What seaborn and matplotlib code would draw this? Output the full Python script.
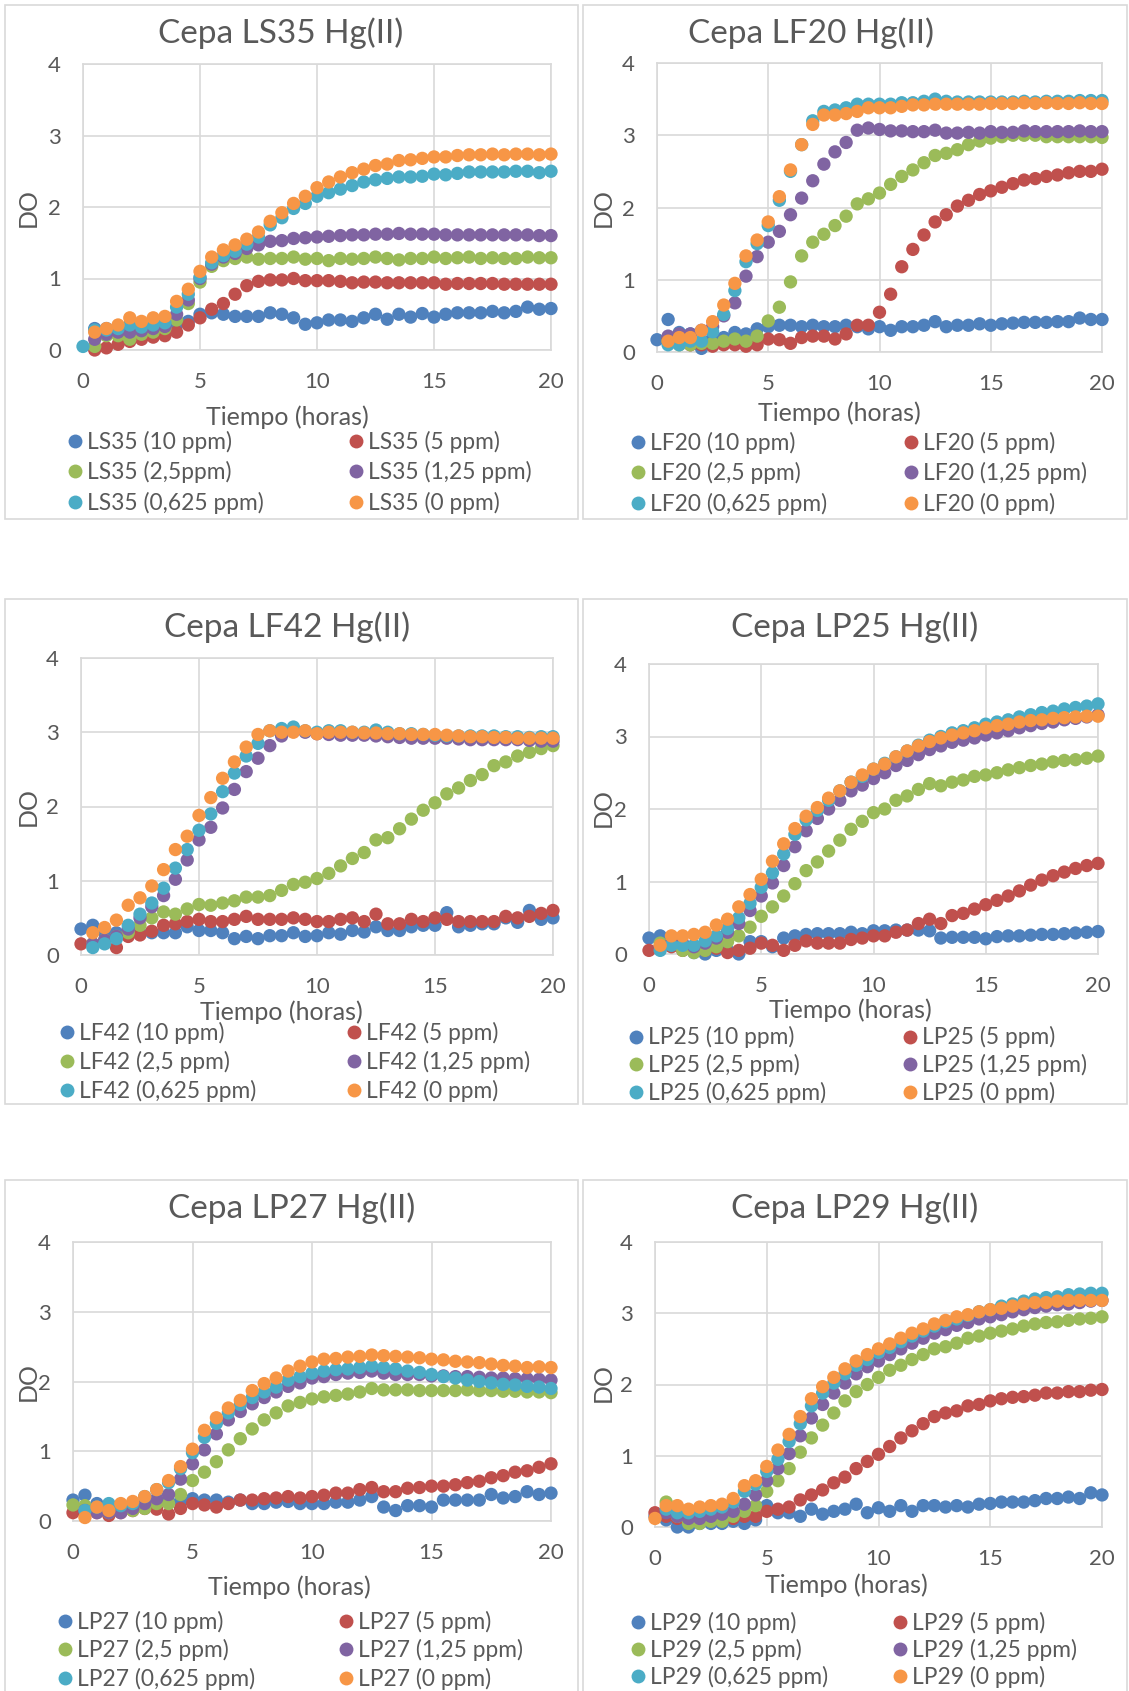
import numpy as np
import pandas as pd
import seaborn as sns
import matplotlib.pyplot as plt
from matplotlib.lines import Line2D
from matplotlib.patches import Rectangle

N = np.nan

# tiempo de muestreo (horas)
tiempo = [0.0, 0.5, 1.0, 1.5, 2.0, 2.5, 3.0, 3.5, 4.0, 4.5, 5.0,
          5.5, 6.0, 6.5, 7.0, 7.5, 8.0, 8.5, 9.0, 9.5, 10.0,
          10.5, 11.0, 11.5, 12.0, 12.5, 13.0, 13.5, 14.0, 14.5, 15.0,
          15.5, 16.0, 16.5, 17.0, 17.5, 18.0, 18.5, 19.0, 19.5, 20.0]

## Cepa LS35
ls35_10 = [N,
    0.30, 0.30, 0.30, 0.35, 0.30, 0.30, 0.30, 0.35, 0.40, 0.50,
    0.52, 0.50, 0.47, 0.47, 0.47, 0.52, 0.50, 0.45, 0.36, 0.38,
    0.42, 0.42, 0.40, 0.45, 0.50, 0.43, 0.50, 0.46, 0.51, 0.46,
    0.50, 0.52, 0.52, 0.52, 0.54, 0.52, 0.54, 0.60, 0.57, 0.58]
ls35_5 = [N,
    0.00, 0.03, 0.08, 0.12, 0.15, 0.18, 0.20, 0.25, 0.35, 0.45,
    0.57, 0.65, 0.78, 0.90, 0.96, 0.98, 0.98, 1.00, 0.97, 0.97,
    0.97, 0.96, 0.94, 0.95, 0.95, 0.94, 0.94, 0.94, 0.94, 0.94,
    0.92, 0.93, 0.93, 0.93, 0.93, 0.92, 0.92, 0.92, 0.92, 0.92]
ls35_25 = [N,
    0.05, 0.20, 0.20, 0.15, 0.22, 0.25, 0.30, 0.42, 0.65, 0.95,
    1.17, 1.25, 1.28, 1.30, 1.27, 1.28, 1.28, 1.30, 1.27, 1.28,
    1.25, 1.28, 1.27, 1.28, 1.30, 1.28, 1.26, 1.28, 1.28, 1.30,
    1.28, 1.29, 1.30, 1.28, 1.29, 1.28, 1.28, 1.30, 1.29, 1.29]
ls35_125 = [N,
    0.15, 0.22, 0.25, 0.25, 0.27, 0.30, 0.33, 0.50, 0.70, 1.00,
    1.20, 1.30, 1.35, 1.42, 1.47, 1.52, 1.53, 1.56, 1.57, 1.58,
    1.59, 1.60, 1.61, 1.61, 1.62, 1.62, 1.63, 1.62, 1.62, 1.62,
    1.61, 1.61, 1.61, 1.61, 1.61, 1.61, 1.61, 1.61, 1.60, 1.60]
ls35_0625 = [0.05,
    0.28, 0.28, 0.30, 0.35, 0.32, 0.35, 0.38, 0.60, 0.78, 1.02,
    1.22, 1.32, 1.38, 1.48, 1.58, 1.75, 1.85, 1.98, 2.05, 2.15,
    2.20, 2.25, 2.30, 2.35, 2.38, 2.40, 2.42, 2.42, 2.43, 2.46,
    2.45, 2.47, 2.49, 2.49, 2.49, 2.49, 2.50, 2.50, 2.48, 2.50]
ls35_0 = [N,
    0.25, 0.30, 0.35, 0.45, 0.40, 0.45, 0.47, 0.68, 0.85, 1.10,
    1.30, 1.40, 1.47, 1.55, 1.65, 1.80, 1.92, 2.05, 2.15, 2.27,
    2.35, 2.42, 2.48, 2.53, 2.58, 2.60, 2.65, 2.66, 2.68, 2.70,
    2.70, 2.72, 2.73, 2.73, 2.74, 2.73, 2.74, 2.74, 2.73, 2.74]

## Cepa LF20
lf20_10 = [0.17,
    0.45, 0.27, 0.25, 0.05, 0.20, 0.20, 0.27, 0.25, 0.32, 0.35,
    0.37, 0.37, 0.35, 0.37, 0.35, 0.35, 0.37, 0.35, 0.32, 0.35,
    0.30, 0.35, 0.35, 0.37, 0.42, 0.35, 0.37, 0.37, 0.39, 0.37,
    0.39, 0.40, 0.41, 0.41, 0.41, 0.42, 0.42, 0.47, 0.45, 0.45]
lf20_5 = [N,
    0.20, 0.20, 0.10, 0.10, 0.08, 0.10, 0.10, 0.08, 0.10, 0.18,
    0.17, 0.12, 0.20, 0.22, 0.22, 0.18, 0.25, 0.37, 0.37, 0.55,
    0.80, 1.18, 1.42, 1.62, 1.80, 1.90, 2.02, 2.10, 2.18, 2.23,
    2.28, 2.33, 2.38, 2.40, 2.43, 2.45, 2.48, 2.50, 2.50, 2.53]
lf20_25 = [N,
    0.15, 0.10, 0.10, 0.12, 0.12, 0.15, 0.18, 0.15, 0.22, 0.43,
    0.62, 0.97, 1.33, 1.52, 1.63, 1.75, 1.88, 2.05, 2.12, 2.20,
    2.32, 2.43, 2.52, 2.62, 2.72, 2.75, 2.80, 2.87, 2.92, 2.96,
    2.98, 3.00, 3.00, 3.00, 2.98, 2.98, 2.98, 2.98, 2.98, 2.97]
lf20_125 = [N,
    0.22, 0.25, 0.25, 0.30, 0.35, 0.50, 0.68, 1.05, 1.32, 1.52,
    1.67, 1.90, 2.13, 2.37, 2.60, 2.77, 2.90, 3.07, 3.10, 3.08,
    3.06, 3.06, 3.05, 3.05, 3.07, 3.03, 3.03, 3.04, 3.03, 3.05,
    3.04, 3.04, 3.06, 3.05, 3.05, 3.05, 3.05, 3.06, 3.05, 3.05]
lf20_0625 = [N,
    0.10, 0.10, 0.15, 0.15, 0.28, 0.52, 0.85, 1.25, 1.50, 1.75,
    2.10, 2.50, 2.87, 3.20, 3.33, 3.35, 3.38, 3.43, 3.43, 3.43,
    3.43, 3.45, 3.45, 3.47, 3.50, 3.47, 3.46, 3.46, 3.46, 3.46,
    3.46, 3.46, 3.47, 3.46, 3.47, 3.47, 3.47, 3.48, 3.48, 3.48]
lf20_0 = [N,
    0.15, 0.20, 0.20, 0.30, 0.42, 0.65, 0.95, 1.33, 1.55, 1.80,
    2.15, 2.52, 2.87, 3.15, 3.28, 3.28, 3.30, 3.33, 3.38, 3.38,
    3.38, 3.40, 3.42, 3.42, 3.43, 3.43, 3.43, 3.43, 3.43, 3.44,
    3.44, 3.44, 3.45, 3.44, 3.45, 3.44, 3.44, 3.45, 3.44, 3.44]

## Cepa LF42
lf42_10 = [0.35,
    0.40, 0.30, 0.30, 0.30, 0.30, 0.30, 0.30, 0.30, 0.38, 0.33,
    0.33, 0.30, 0.22, 0.25, 0.22, 0.26, 0.26, 0.30, 0.25, 0.26,
    0.30, 0.28, 0.33, 0.31, 0.38, 0.33, 0.33, 0.38, 0.40, 0.40,
    0.57, 0.38, 0.40, 0.42, 0.42, 0.50, 0.44, 0.60, 0.48, 0.50]
lf42_5 = [0.15,
    0.15, 0.18, 0.10, 0.25, 0.27, 0.32, 0.40, 0.42, 0.45, 0.48,
    0.45, 0.45, 0.48, 0.52, 0.48, 0.48, 0.48, 0.50, 0.48, 0.45,
    0.45, 0.48, 0.50, 0.45, 0.55, 0.42, 0.42, 0.48, 0.45, 0.50,
    0.48, 0.45, 0.45, 0.45, 0.45, 0.52, 0.50, 0.52, 0.56, 0.60]
lf42_25 = [N,
    0.15, 0.20, 0.25, 0.30, 0.40, 0.50, 0.58, 0.55, 0.62, 0.68,
    0.67, 0.70, 0.73, 0.78, 0.78, 0.80, 0.87, 0.95, 0.98, 1.03,
    1.10, 1.20, 1.30, 1.38, 1.55, 1.58, 1.70, 1.83, 1.95, 2.05,
    2.17, 2.25, 2.35, 2.43, 2.55, 2.60, 2.68, 2.73, 2.78, 2.82]
lf42_125 = [N,
    0.15, 0.20, 0.25, 0.35, 0.50, 0.65, 0.80, 1.02, 1.28, 1.55,
    1.72, 1.98, 2.23, 2.47, 2.65, 2.82, 2.95, 3.02, 3.00, 2.98,
    2.97, 2.96, 2.96, 2.96, 2.95, 2.94, 2.93, 2.92, 2.92, 2.92,
    2.92, 2.91, 2.90, 2.90, 2.90, 2.90, 2.90, 2.89, 2.88, 2.88]
lf42_0625 = [N,
    0.10, 0.15, 0.22, 0.40, 0.55, 0.70, 0.90, 1.17, 1.42, 1.68,
    1.90, 2.20, 2.45, 2.68, 2.85, 3.02, 3.05, 3.07, 3.02, 3.00,
    3.02, 3.02, 3.00, 3.00, 3.03, 3.00, 2.98, 2.98, 2.97, 2.96,
    2.95, 2.95, 2.95, 2.95, 2.95, 2.94, 2.94, 2.93, 2.94, 2.94]
lf42_0 = [N,
    0.30, 0.37, 0.47, 0.67, 0.77, 0.93, 1.15, 1.42, 1.60, 1.88,
    2.12, 2.38, 2.60, 2.80, 2.97, 3.02, 3.00, 3.00, 3.02, 2.98,
    3.00, 3.00, 3.00, 2.99, 2.99, 2.98, 2.98, 2.97, 2.97, 2.97,
    2.96, 2.95, 2.94, 2.94, 2.93, 2.93, 2.92, 2.92, 2.92, 2.92]

## Cepa LP25
lp25_10 = [0.22,
    0.25, 0.15, 0.10, 0.02, 0.00, 0.05, 0.05, 0.00, 0.17, 0.17,
    0.10, 0.22, 0.25, 0.27, 0.28, 0.28, 0.28, 0.30, 0.28, 0.32,
    0.32, 0.33, 0.33, 0.33, 0.32, 0.22, 0.23, 0.23, 0.23, 0.21,
    0.24, 0.25, 0.25, 0.26, 0.27, 0.27, 0.28, 0.29, 0.30, 0.31]
lp25_5 = [0.05,
    0.10, 0.10, 0.05, 0.05, 0.05, 0.08, 0.02, 0.05, 0.08, 0.15,
    0.12, 0.05, 0.12, 0.18, 0.15, 0.15, 0.15, 0.20, 0.22, 0.25,
    0.25, 0.30, 0.33, 0.42, 0.48, 0.42, 0.53, 0.56, 0.62, 0.68,
    0.74, 0.80, 0.87, 0.95, 1.02, 1.08, 1.13, 1.18, 1.22, 1.25]
lp25_25 = [N,
    0.15, 0.15, 0.05, 0.02, 0.05, 0.10, 0.17, 0.25, 0.37, 0.52,
    0.65, 0.80, 0.97, 1.15, 1.27, 1.42, 1.57, 1.72, 1.83, 1.95,
    2.00, 2.12, 2.18, 2.27, 2.35, 2.32, 2.37, 2.40, 2.45, 2.47,
    2.50, 2.54, 2.57, 2.60, 2.62, 2.65, 2.67, 2.68, 2.70, 2.73]
lp25_125 = [N,
    0.10, 0.15, 0.15, 0.10, 0.15, 0.22, 0.30, 0.42, 0.60, 0.80,
    0.98, 1.22, 1.48, 1.70, 1.87, 2.00, 2.12, 2.25, 2.33, 2.42,
    2.50, 2.60, 2.67, 2.75, 2.82, 2.87, 2.92, 2.95, 2.98, 3.02,
    3.05, 3.08, 3.12, 3.15, 3.18, 3.20, 3.23, 3.25, 3.27, 3.30]
lp25_0625 = [N,
    0.05, 0.12, 0.12, 0.12, 0.18, 0.25, 0.35, 0.50, 0.70, 0.92,
    1.12, 1.38, 1.65, 1.85, 1.98, 2.12, 2.25, 2.37, 2.45, 2.55,
    2.63, 2.72, 2.80, 2.88, 2.95, 3.00, 3.05, 3.08, 3.12, 3.17,
    3.20, 3.23, 3.27, 3.30, 3.33, 3.35, 3.38, 3.40, 3.42, 3.45]
lp25_0 = [N,
    0.12, 0.25, 0.25, 0.27, 0.30, 0.40, 0.48, 0.65, 0.82, 1.03,
    1.28, 1.52, 1.73, 1.90, 2.02, 2.15, 2.25, 2.37, 2.47, 2.55,
    2.62, 2.72, 2.80, 2.87, 2.93, 2.98, 3.02, 3.05, 3.08, 3.12,
    3.15, 3.17, 3.20, 3.22, 3.23, 3.25, 3.26, 3.27, 3.28, 3.28]

## Cepa LP27
lp27_10 = [0.30,
    0.37, 0.25, 0.20, 0.20, 0.20, 0.22, 0.30, 0.28, 0.28, 0.32,
    0.30, 0.30, 0.27, 0.30, 0.25, 0.25, 0.27, 0.28, 0.25, 0.25,
    0.25, 0.27, 0.27, 0.30, 0.35, 0.20, 0.15, 0.22, 0.22, 0.20,
    0.30, 0.30, 0.30, 0.30, 0.38, 0.33, 0.35, 0.42, 0.38, 0.40]
lp27_5 = [0.12,
    0.15, 0.12, 0.08, 0.12, 0.15, 0.18, 0.17, 0.10, 0.18, 0.25,
    0.23, 0.20, 0.25, 0.30, 0.30, 0.32, 0.33, 0.35, 0.33, 0.35,
    0.37, 0.40, 0.40, 0.45, 0.48, 0.42, 0.42, 0.47, 0.48, 0.50,
    0.50, 0.52, 0.55, 0.57, 0.62, 0.65, 0.70, 0.72, 0.77, 0.82]
lp27_25 = [0.23,
    0.22, 0.15, 0.12, 0.15, 0.15, 0.18, 0.25, 0.25, 0.38, 0.58,
    0.70, 0.85, 1.02, 1.18, 1.32, 1.45, 1.55, 1.65, 1.70, 1.75,
    1.78, 1.80, 1.82, 1.85, 1.90, 1.88, 1.88, 1.88, 1.87, 1.87,
    1.87, 1.87, 1.88, 1.87, 1.87, 1.86, 1.86, 1.85, 1.85, 1.84]
lp27_125 = [N,
    0.15, 0.12, 0.12, 0.12, 0.18, 0.25, 0.32, 0.38, 0.60, 0.82,
    1.02, 1.25, 1.45, 1.57, 1.68, 1.77, 1.85, 1.93, 1.98, 2.05,
    2.07, 2.10, 2.12, 2.13, 2.15, 2.12, 2.10, 2.10, 2.10, 2.08,
    2.08, 2.07, 2.07, 2.06, 2.05, 2.05, 2.04, 2.04, 2.03, 2.02]
lp27_0625 = [N,
    0.15, 0.20, 0.25, 0.22, 0.25, 0.35, 0.45, 0.55, 0.75, 0.98,
    1.20, 1.40, 1.55, 1.67, 1.77, 1.85, 1.92, 2.02, 2.07, 2.12,
    2.15, 2.17, 2.18, 2.20, 2.22, 2.20, 2.18, 2.15, 2.13, 2.10,
    2.07, 2.05, 2.02, 2.00, 1.98, 1.96, 1.95, 1.93, 1.92, 1.90]
lp27_0 = [N,
    0.05, 0.20, 0.15, 0.25, 0.28, 0.35, 0.45, 0.58, 0.78, 1.03,
    1.30, 1.48, 1.62, 1.73, 1.87, 1.97, 2.05, 2.15, 2.22, 2.28,
    2.32, 2.33, 2.35, 2.36, 2.38, 2.37, 2.36, 2.35, 2.34, 2.32,
    2.31, 2.29, 2.28, 2.27, 2.25, 2.23, 2.22, 2.20, 2.21, 2.20]

## Cepa LP29
lp29_10 = [0.15,
    0.10, 0.00, 0.00, 0.05, 0.05, 0.05, 0.08, 0.05, 0.10, 0.30,
    0.20, 0.20, 0.15, 0.25, 0.18, 0.22, 0.25, 0.32, 0.20, 0.27,
    0.22, 0.30, 0.22, 0.30, 0.30, 0.28, 0.30, 0.28, 0.32, 0.33,
    0.35, 0.35, 0.35, 0.37, 0.40, 0.40, 0.42, 0.40, 0.48, 0.45]
lp29_5 = [0.20,
    0.15, 0.12, 0.10, 0.10, 0.10, 0.12, 0.12, 0.15, 0.15, 0.22,
    0.25, 0.28, 0.38, 0.45, 0.52, 0.62, 0.70, 0.82, 0.92, 1.02,
    1.13, 1.25, 1.35, 1.45, 1.55, 1.60, 1.63, 1.70, 1.72, 1.77,
    1.80, 1.82, 1.83, 1.85, 1.88, 1.88, 1.90, 1.90, 1.92, 1.93]
lp29_25 = [N,
    0.35, 0.15, 0.05, 0.05, 0.08, 0.08, 0.15, 0.22, 0.30, 0.50,
    0.65, 0.82, 1.05, 1.25, 1.43, 1.60, 1.77, 1.90, 2.00, 2.10,
    2.20, 2.27, 2.35, 2.42, 2.50, 2.53, 2.58, 2.65, 2.68, 2.72,
    2.75, 2.78, 2.82, 2.85, 2.87, 2.88, 2.90, 2.92, 2.93, 2.95]
lp29_125 = [N,
    0.20, 0.15, 0.12, 0.12, 0.15, 0.18, 0.22, 0.32, 0.45, 0.65,
    0.82, 1.03, 1.28, 1.53, 1.72, 1.88, 2.02, 2.15, 2.25, 2.33,
    2.42, 2.50, 2.58, 2.65, 2.72, 2.77, 2.83, 2.87, 2.92, 2.95,
    2.98, 3.02, 3.05, 3.08, 3.10, 3.12, 3.13, 3.15, 3.17, 3.18]
lp29_0625 = [N,
    0.25, 0.20, 0.20, 0.22, 0.25, 0.28, 0.35, 0.50, 0.60, 0.78,
    0.95, 1.20, 1.45, 1.70, 1.88, 2.02, 2.15, 2.27, 2.35, 2.45,
    2.52, 2.60, 2.68, 2.75, 2.82, 2.88, 2.92, 2.97, 3.02, 3.05,
    3.10, 3.13, 3.17, 3.20, 3.22, 3.23, 3.26, 3.27, 3.28, 3.28]
lp29_0 = [0.12,
    0.30, 0.30, 0.25, 0.28, 0.30, 0.32, 0.40, 0.58, 0.65, 0.85,
    1.08, 1.30, 1.55, 1.80, 1.97, 2.10, 2.22, 2.33, 2.42, 2.50,
    2.57, 2.65, 2.72, 2.78, 2.85, 2.90, 2.95, 2.98, 3.02, 3.05,
    3.07, 3.10, 3.13, 3.15, 3.15, 3.17, 3.18, 3.18, 3.18, 3.18]

concentraciones = ["10 ppm", "5 ppm", "2,5 ppm", "1,25 ppm", "0,625 ppm", "0 ppm"]
colores = ["#4F81BD", "#C0504D", "#9BBB59", "#8064A2", "#4BACC6", "#F79646"]

## Layout (pixels in the 1129x1691 canvas)
W, H = 1129, 1691
paneles = [
    dict(cepa="LS35", series=[ls35_10, ls35_5, ls35_25, ls35_125, ls35_0625, ls35_0],
         box=(5, 5, 578, 519), ax=(83, 64, 551, 350), title=(281, 33),
         xlab=(287, 417), ylab=(28, 208), leg=(75, 356, 472, 0.37)),
    dict(cepa="LF20", series=[lf20_10, lf20_5, lf20_25, lf20_125, lf20_0625, lf20_0],
         box=(583, 5, 1127, 519), ax=(657, 63, 1102, 352), title=(811, 33),
         xlab=(839, 413), ylab=(603, 208), leg=(638, 911, 473, 0.37)),
    dict(cepa="LF42", series=[lf42_10, lf42_5, lf42_25, lf42_125, lf42_0625, lf42_0],
         box=(5, 599, 578, 1104), ax=(81, 658, 553, 955), title=(287, 627),
         xlab=(281, 1012), ylab=(28, 807), leg=(67, 354, 1062, 0.31)),
    dict(cepa="LP25", series=[lp25_10, lp25_5, lp25_25, lp25_125, lp25_0625, lp25_0],
         box=(583, 599, 1127, 1104), ax=(649, 664, 1098, 954), title=(855, 627),
         xlab=(850, 1010), ylab=(603, 808), leg=(636, 910, 1065, 0.24)),
    dict(cepa="LP27", series=[lp27_10, lp27_5, lp27_25, lp27_125, lp27_0625, lp27_0],
         box=(5, 1180, 578, 1695), ax=(73, 1242, 551, 1521), title=(292, 1208),
         xlab=(289, 1587), ylab=(28, 1382), leg=(65, 346, 1650, 0.28)),
    dict(cepa="LP29", series=[lp29_10, lp29_5, lp29_25, lp29_125, lp29_0625, lp29_0],
         box=(583, 1180, 1127, 1695), ax=(655, 1242, 1102, 1527), title=(855, 1208),
         xlab=(846, 1585), ylab=(603, 1383), leg=(638, 900, 1650, 0.22)),
]

gris = "#595959"
linea = "#D9D9D9"
fs_leg = 16.4
hl = 0.75

sns.set_theme(style="white")
plt.rcParams["font.family"] = ["Lato", "DejaVu Sans"]


def fx(px):
    return px / W


def fy(py):
    return 1 - py / H


fig = plt.figure(figsize=(W / 100, H / 100), dpi=100)

for p in paneles:
    labels = [f"{p['cepa']} ({c})" for c in concentraciones]
    if p["cepa"] == "LS35":
        labels[2] = "LS35 (2,5ppm)"

    df = pd.DataFrame({
        "Tiempo": tiempo * 6,
        "DO": sum(p["series"], []),
        "Serie": np.repeat(labels, len(tiempo)),
    })

    # panel frame
    x0, y0, x1, y1 = p["box"]
    fig.patches.append(Rectangle((fx(x0), fy(y1)), fx(x1 - x0), (y1 - y0) / H,
                                 transform=fig.transFigure, fill=False,
                                 ec=linea, lw=1.2))

    a0, a1, a2, a3 = p["ax"]
    ax = fig.add_axes([fx(a0), fy(a3), fx(a2 - a0), (a3 - a1) / H])
    sns.scatterplot(data=df, x="Tiempo", y="DO", hue="Serie", hue_order=labels,
                    palette=colores, s=92, linewidth=0, legend=False,
                    clip_on=False, ax=ax, zorder=3)

    ax.set_xlim(0, 20)
    ax.set_ylim(0, 4)
    ax.set_xticks([0, 5, 10, 15, 20])
    ax.set_yticks([0, 1, 2, 3, 4])
    ax.grid(True, color=linea, lw=1.2)
    ax.set_axisbelow(True)
    for s in ax.spines.values():
        s.set_color(linea)
        s.set_linewidth(1.2)
    ax.tick_params(length=0, labelsize=16, labelcolor=gris)
    ax.tick_params(axis="x", pad=16)
    ax.tick_params(axis="y", pad=16)

    ax.set_xlabel("Tiempo (horas)", fontsize=18, color=gris)
    ax.xaxis.set_label_coords(fx(p["xlab"][0]), fy(p["xlab"][1]), transform=fig.transFigure)
    ax.xaxis.label.set_va("center")
    ax.set_ylabel("DO", fontsize=18, color=gris)
    ax.yaxis.set_label_coords(fx(p["ylab"][0]), fy(p["ylab"][1]), transform=fig.transFigure)
    ax.yaxis.label.set_va("center")

    fig.text(fx(p["title"][0]), fy(p["title"][1]), f"Cepa {p['cepa']} Hg(II)",
             fontsize=24, color=gris, ha="center", va="center")

    handles = [Line2D([], [], ls="", marker="o", markersize=10, markeredgewidth=0,
                      color=c) for c in colores]
    half = hl * fs_leg * 100 / 72 / 2
    for col, idx in enumerate([(0, 2, 4), (1, 3, 5)]):
        leg = ax.legend([handles[i] for i in idx], [labels[i] for i in idx],
                        loc="center left",
                        bbox_to_anchor=(fx(p["leg"][col] - half), fy(p["leg"][2])),
                        bbox_transform=fig.transFigure, frameon=False,
                        fontsize=fs_leg, labelcolor=gris, handlelength=hl,
                        handletextpad=0.16, borderpad=0, borderaxespad=0,
                        labelspacing=p["leg"][3])
        if col == 0:
            ax.add_artist(leg)

fig.savefig("out.png", dpi=100)
